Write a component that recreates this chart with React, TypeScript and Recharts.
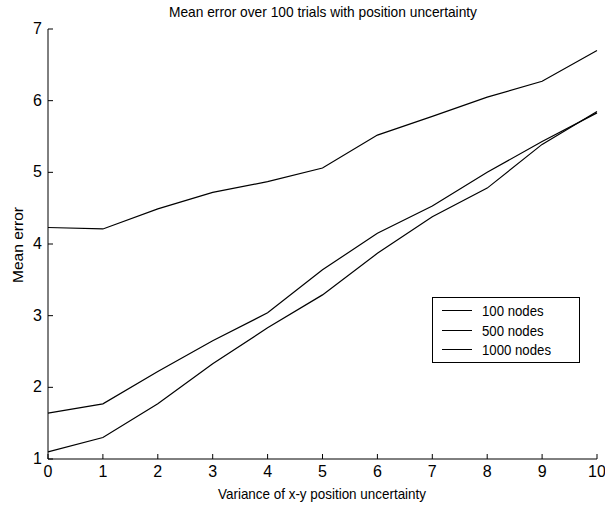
import { LineChart, Line, XAxis, YAxis } from "recharts";

const variance = [0, 1, 2, 3, 4, 5, 6, 7, 8, 9, 10];
const nodes100 = [4.23, 4.21, 4.49, 4.72, 4.87, 5.06, 5.52, 5.78, 6.05, 6.27, 6.7];
const nodes500 = [1.64, 1.77, 2.22, 2.65, 3.04, 3.64, 4.15, 4.53, 5.0, 5.43, 5.83];
const nodes1000 = [1.1, 1.3, 1.77, 2.33, 2.83, 3.29, 3.87, 4.38, 4.78, 5.39, 5.85];
const xTicks = [0, 1, 2, 3, 4, 5, 6, 7, 8, 9, 10];
const yTicks = [1, 2, 3, 4, 5, 6, 7];
const seriesNames = ["100 nodes", "500 nodes", "1000 nodes"];

const data = variance.map((v, i) => ({
  v,
  a: nodes100[i],
  b: nodes500[i],
  c: nodes1000[i],
}));

const FONT = "'Liberation Sans', Arial, sans-serif";
const TICK = 5;

function BottomTick({ x, y, payload }: any) {
  return (
    <g>
      <line x1={x} y1={y} x2={x} y2={y - TICK} stroke="#000" />
      <text x={x} y={y + 18} textAnchor="middle" fontSize={16} fontFamily={FONT} fill="#000">
        {payload.value}
      </text>
    </g>
  );
}

function TopTick({ x, y }: any) {
  return <line x1={x} y1={y} x2={x} y2={y + TICK} stroke="#000" />;
}

function LeftTick({ x, y, payload }: any) {
  return (
    <g>
      <line x1={x} y1={y} x2={x + TICK} y2={y} stroke="#000" />
      <text x={x - 6} y={y + 5} textAnchor="end" fontSize={16} fontFamily={FONT} fill="#000">
        {payload.value}
      </text>
    </g>
  );
}

function RightTick({ x, y }: any) {
  return <line x1={x} y1={y} x2={x - TICK} y2={y} stroke="#000" />;
}

function LegendBox() {
  return (
    <div
      style={{
        position: "absolute",
        left: 432,
        top: 297,
        width: 146,
        border: "1px solid #000",
        background: "#fff",
        padding: "3px 0 2px 0",
        fontFamily: FONT,
        fontSize: 15,
        lineHeight: "19.5px",
      }}
    >
      {seriesNames.map((n) => (
        <div key={n} style={{ display: "flex", alignItems: "center" }}>
          <span style={{ display: "inline-block", width: 30, borderTop: "1px solid #000", margin: "0 10px 0 9px" }} />
          <span style={{ display: "inline-block", transform: "scaleX(0.88)", transformOrigin: "left center", whiteSpace: "nowrap" }}>{n}</span>
        </div>
      ))}
    </div>
  );
}

export default function App() {
  return (
    <div style={{ position: "absolute", left: 0, top: 0, width: 605, height: 505, background: "#fff" }}>
      <LineChart width={605} height={505} data={data} margin={{ top: 29, right: 8, bottom: 16, left: 8 }}>
        <XAxis
          xAxisId="bottom"
          dataKey="v"
          type="number"
          domain={[0, 10]}
          ticks={xTicks}
          tick={<BottomTick />}
          tickLine={false}
          tickSize={0}
          tickMargin={0}
          axisLine={{ stroke: "#000" }}
          height={30}
          interval={0}
        />
        <XAxis
          xAxisId="top"
          orientation="top"
          dataKey="v"
          type="number"
          domain={[0, 10]}
          ticks={xTicks}
          tick={<TopTick />}
          tickLine={false}
          tickSize={0}
          tickMargin={0}
          axisLine={{ stroke: "#000" }}
          height={0}
          interval={0}
        />
        <YAxis
          yAxisId="left"
          type="number"
          domain={[1, 7]}
          ticks={yTicks}
          tick={<LeftTick />}
          tickLine={false}
          tickSize={0}
          tickMargin={0}
          axisLine={{ stroke: "#000" }}
          width={40}
          interval={0}
        />
        <YAxis
          yAxisId="right"
          orientation="right"
          type="number"
          domain={[1, 7]}
          ticks={yTicks}
          tick={<RightTick />}
          tickLine={false}
          tickSize={0}
          tickMargin={0}
          axisLine={{ stroke: "#000" }}
          width={0}
          interval={0}
        />
        <Line xAxisId="bottom" yAxisId="left" dataKey="a" name={seriesNames[0]} stroke="#000" strokeWidth={1.2} dot={false} isAnimationActive={false} />
        <Line xAxisId="bottom" yAxisId="left" dataKey="b" name={seriesNames[1]} stroke="#000" strokeWidth={1.2} dot={false} isAnimationActive={false} />
        <Line xAxisId="bottom" yAxisId="left" dataKey="c" name={seriesNames[2]} stroke="#000" strokeWidth={1.2} dot={false} isAnimationActive={false} />
        <text x={323} y={17} textAnchor="middle" fontSize={15} fontFamily={FONT} fill="#000" textLength={308} lengthAdjust="spacingAndGlyphs">
          Mean error over 100 trials with position uncertainty
        </text>
        <text x={322} y={499} textAnchor="middle" fontSize={15} fontFamily={FONT} fill="#000" textLength={208} lengthAdjust="spacingAndGlyphs">
          Variance of x-y position uncertainty
        </text>
        <text x={23} y={245} textAnchor="middle" fontSize={15} fontFamily={FONT} fill="#000" transform="rotate(-90 23 245)" textLength={76} lengthAdjust="spacingAndGlyphs">
          Mean error
        </text>
      </LineChart>
      <LegendBox />
    </div>
  );
}
